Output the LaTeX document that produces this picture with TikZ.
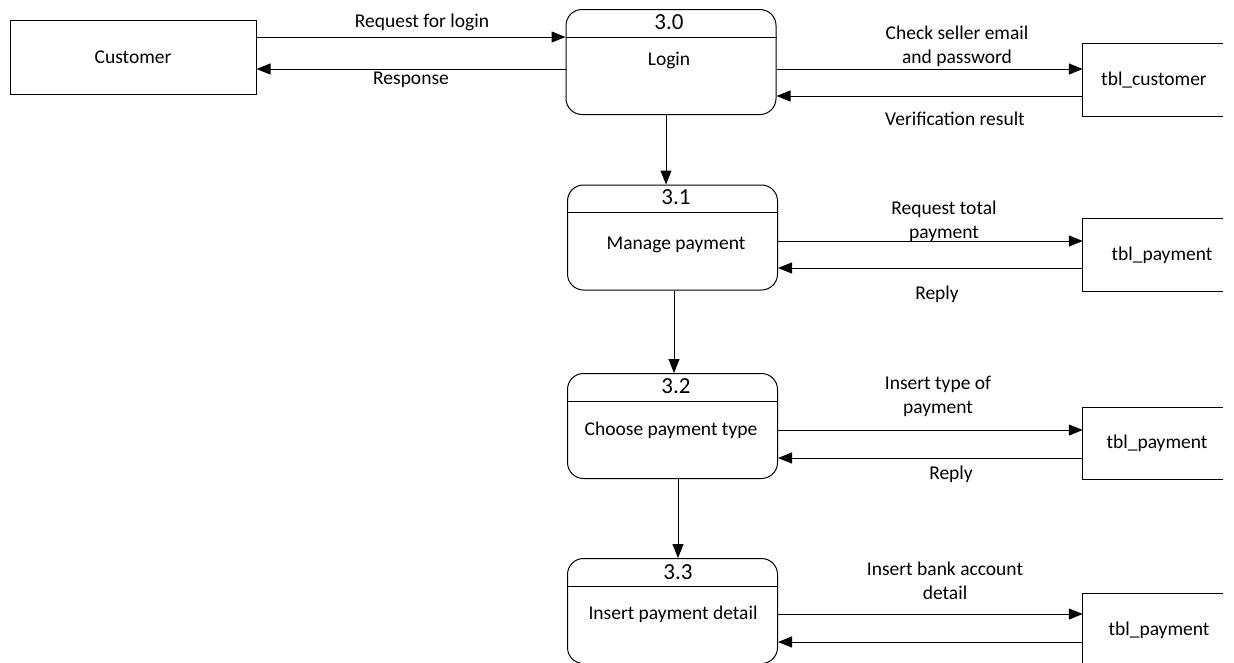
\documentclass[tikz,border=0pt]{standalone}
\usepackage{fontspec}
\setmainfont{Carlito}
\usetikzlibrary{arrows.meta}
\begin{document}
\begin{tikzpicture}[x=1pt,y=-1pt,
  lbl/.style={font=\fontsize{19.5}{24}\selectfont, align=center, inner sep=0},
  num/.style={font=\fontsize{23}{26}\selectfont, inner sep=0},
  flow/.style={-{Triangle[length=14pt,width=11pt]}, line width=1pt},
  proc/.style={draw, rounded corners=16pt, line width=1pt, minimum width=210pt, minimum height=105pt, inner sep=0},
  ent/.style={draw, line width=1pt, minimum width=246pt, minimum height=74pt, inner sep=0, font=\fontsize{19.5}{24}\selectfont},
  store/.style={minimum width=140pt, minimum height=72pt, inner sep=0, font=\fontsize{19.5}{24}\selectfont},
  sline/.style={line width=1pt},
]
\useasboundingbox (0,0) rectangle (1234,662);

% external entity
\node[ent] (cust) at (133,57) {Customer};

% processes
\node[proc] (p0) at (671,62) {};
\node[proc] (p1) at (672.5,237.5) {};
\node[proc] (p2) at (672.5,426) {};
\node[proc] (p3) at (672.5,611) {};

\draw[sline] (p0.west |- 0,37) -- (p0.east |- 0,37);
\draw[sline] (p1.west |- 0,212) -- (p1.east |- 0,212);
\draw[sline] (p2.west |- 0,401) -- (p2.east |- 0,401);
\draw[sline] (p3.west |- 0,586) -- (p3.east |- 0,586);

\node[num] (n0) at (669,22) {3.0};
\node[num] (n1) at (676,197) {3.1};
\node[num] (n2) at (676,386) {3.2};
\node[num] (n3) at (678,572) {3.3};

\node[lbl] (t0) at (669,60) {Login};
\node[lbl] (t1) at (676,245) {Manage payment};
\node[lbl] (t2) at (671,430) {Choose payment type};
\node[lbl] (t3) at (673,614) {Insert payment detail};

% data stores
\node[store] (s0) at (1153,80) {\hspace*{2pt}tbl\_customer};
\node[store] (s1) at (1153,255) {\hspace*{18pt}tbl\_payment};
\node[store] (s2) at (1153,443.5) {\hspace*{8pt}tbl\_payment};
\node[store] (s3) at (1153,630) {\hspace*{12pt}tbl\_payment};
\foreach \s in {s0,s1,s2,s3}{
  \draw[sline] (\s.north east) -- (\s.north west) -- (\s.south west) -- (\s.south east);
}

% flows
\draw[flow] (cust.east |- 0,37) -- (p0.west |- 0,37);
\draw[flow] (p0.west |- 0,69) -- (cust.east |- 0,69);
\node[lbl] (l1) at (422,22) {Request for login};
\node[lbl] (l2) at (411,80) {Response};

\draw[flow] (p0.east |- 0,69) -- (s0.west |- 0,69);
\draw[flow] (s0.west |- 0,96) -- (p0.east |- 0,96);
\node[lbl] (l3) at (957,46) {Check seller email\\and password};
\node[lbl] (l4) at (955,119) {Verification result};

\draw[flow] (p1.east |- 0,241) -- (s1.west |- 0,241);
\draw[flow] (s1.west |- 0,268) -- (p1.east |- 0,268);
\node[lbl] (l5) at (944,221) {Request total\\payment};
\node[lbl] (l6) at (937,294) {Reply};

\draw[flow] (p2.east |- 0,430) -- (s2.west |- 0,430);
\draw[flow] (s2.west |- 0,458) -- (p2.east |- 0,458);
\node[lbl] (l7) at (938,396) {Insert type of\\payment};
\node[lbl] (l8) at (951,474) {Reply};

\draw[flow] (p3.east |- 0,614) -- (s3.west |- 0,614);
\draw[flow] (s3.west |- 0,642) -- (p3.east |- 0,642);
\node[lbl] (l9) at (945,581) {Insert bank account\\detail};

% vertical flows
\draw[flow] (p0.south -| 666,0) -- (p1.north -| 666,0);
\draw[flow] (p1.south -| 674,0) -- (p2.north -| 674,0);
\draw[flow] (p2.south -| 678,0) -- (p3.north -| 678,0);
\end{tikzpicture}
\end{document}
